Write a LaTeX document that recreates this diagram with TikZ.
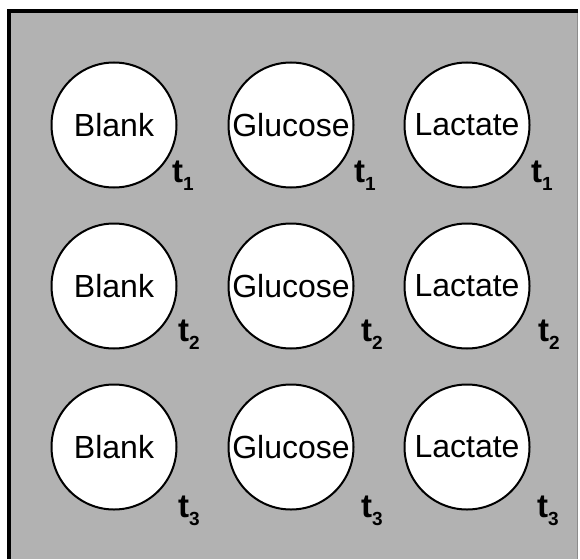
\documentclass[tikz,border=0pt]{standalone}
\usepackage{fontspec}
\setmainfont{Liberation Sans}
\definecolor{plategray}{RGB}{178,178,178}
\newcommand{\tlab}[1]{\fontsize{33}{33}\selectfont\bfseries t\raisebox{-0.25em}{\fontsize{19}{19}\selectfont #1}}

\begin{document}
\begin{tikzpicture}[x=1pt, y=-1pt,
  well/.style={circle, draw=black, line width=2pt, fill=white, minimum size=125pt, inner sep=0pt, font=\fontsize{32}{32}\selectfont},
  time/.style={inner sep=0pt}]
\useasboundingbox (0,0) rectangle (580,559);
\fill [white] (0,0) rectangle (580,559);
\fill [plategray] (9,11) rectangle (578,559);
\draw [black!45, line width=1pt] (577.5,11) -- (577.5,559);
\draw [black, line width=3.5pt] (9,559) -- (9,11) -- (578,11);
% wells, one row per time point
\node [well] (b1) at (114,125) {Blank};
\node [well] (g1) at (291,125) {Glucose};
\node [well] (l1) at (467,125) {Lactate};
\node [well] (b2) at (114,286) {Blank};
\node [well] (g2) at (291,286) {Glucose};
\node [well] (l2) at (467,286) {Lactate};
\node [well] (b3) at (114,447) {Blank};
\node [well] (g3) at (291,447) {Glucose};
\node [well] (l3) at (467,447) {Lactate};
% time labels
\node [time] (tb1) at (183,176) {\tlab{1}};
\node [time] (tg1) at (365,176) {\tlab{1}};
\node [time] (tl1) at (542,176) {\tlab{1}};
\node [time] (tb2) at (189,335) {\tlab{2}};
\node [time] (tg2) at (372,335) {\tlab{2}};
\node [time] (tl2) at (549,335) {\tlab{2}};
\node [time] (tb3) at (189,511) {\tlab{3}};
\node [time] (tg3) at (372,511) {\tlab{3}};
\node [time] (tl3) at (548,511) {\tlab{3}};
\end{tikzpicture}
\end{document}
